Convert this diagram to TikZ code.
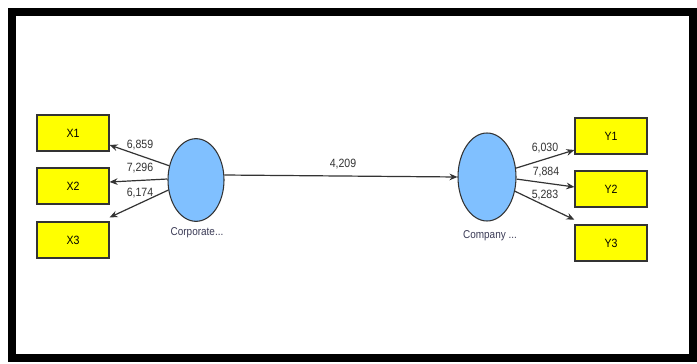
\documentclass[tikz,border=0pt]{standalone}
\usepackage{fontspec}
\setmainfont{Liberation Sans}[FakeStretch=0.88]
\usetikzlibrary{arrows.meta,shapes.geometric}
\definecolor{lvblue}{HTML}{80C0FF}
\definecolor{mvyellow}{HTML}{FFFF00}
\definecolor{edgegray}{HTML}{333333}
\definecolor{lvtext}{HTML}{3A3A55}
\tikzset{
  mv/.style={draw=edgegray, line width=0.9pt, fill=mvyellow, minimum width=54pt, minimum height=27pt, inner sep=0pt, font=\fontsize{9}{10}\selectfont},
  lv/.style={ellipse, draw=edgegray, line width=0.8pt, fill=lvblue, inner sep=0pt},
  lvlabel/.style={font=\fontsize{8.5}{10}\selectfont, text=lvtext, inner sep=0pt},
  conn/.style={draw=edgegray, line width=0.9pt, -{Stealth[length=6pt,width=5pt]}},
  coef/.style={font=\fontsize{9}{10}\selectfont, inner sep=0pt, text=black!80}
}
\begin{document}
\begin{tikzpicture}[x=0.75pt,y=-0.75pt]
\useasboundingbox (0,0) rectangle (697,364);
\fill[white] (0,0) rectangle (697,364);
% frame
\draw[line width=6pt, black] (12,12) rectangle (693,358);
% manifest variables
\node[mv] (X1) at (73,133) {X1};
\node[mv] (X2) at (73,186) {X2};
\node[mv] (X3) at (73,240) {X3};
\node[mv] (Y1) at (611,136) {Y1};
\node[mv] (Y2) at (611,189) {Y2};
\node[mv] (Y3) at (611,243) {Y3};
% latent variables
\node[lv, minimum width=42pt, minimum height=62pt] (C) at (196,180) {};
\node[lv, minimum width=43.5pt, minimum height=66pt] (P) at (487,177) {};
\node[lvlabel] (Cl) at (197,233) {Corporate...};
\node[lvlabel] (Pl) at (490,236) {Company ...};
% connectors
\draw[conn] (C.152) -- ([yshift=-9pt]X1.east);
\draw[conn] (C.178) -- ([yshift=3pt]X2.east);
\draw[conn] (C.200) -- ([yshift=3pt]X3.north east);
\draw[conn] (C.10) -- (P.west);
\draw[conn] (P.17) -- ([yshift=-10.5pt]Y1.west);
\draw[conn] (P.356) -- ([yshift=1.5pt]Y2.west);
\draw[conn] (P.333) -- ([yshift=3.5pt]Y3.north west);
% coefficients
\node[coef] (k1) at (140,145) {6,859};
\node[coef] (k2) at (140,168) {7,296};
\node[coef] (k3) at (140,193) {6,174};
\node[coef] (k4) at (343,164) {4,209};
\node[coef] (k5) at (545,148) {6,030};
\node[coef] (k6) at (546,172) {7,884};
\node[coef] (k7) at (545,195) {5,283};
\end{tikzpicture}
\end{document}
